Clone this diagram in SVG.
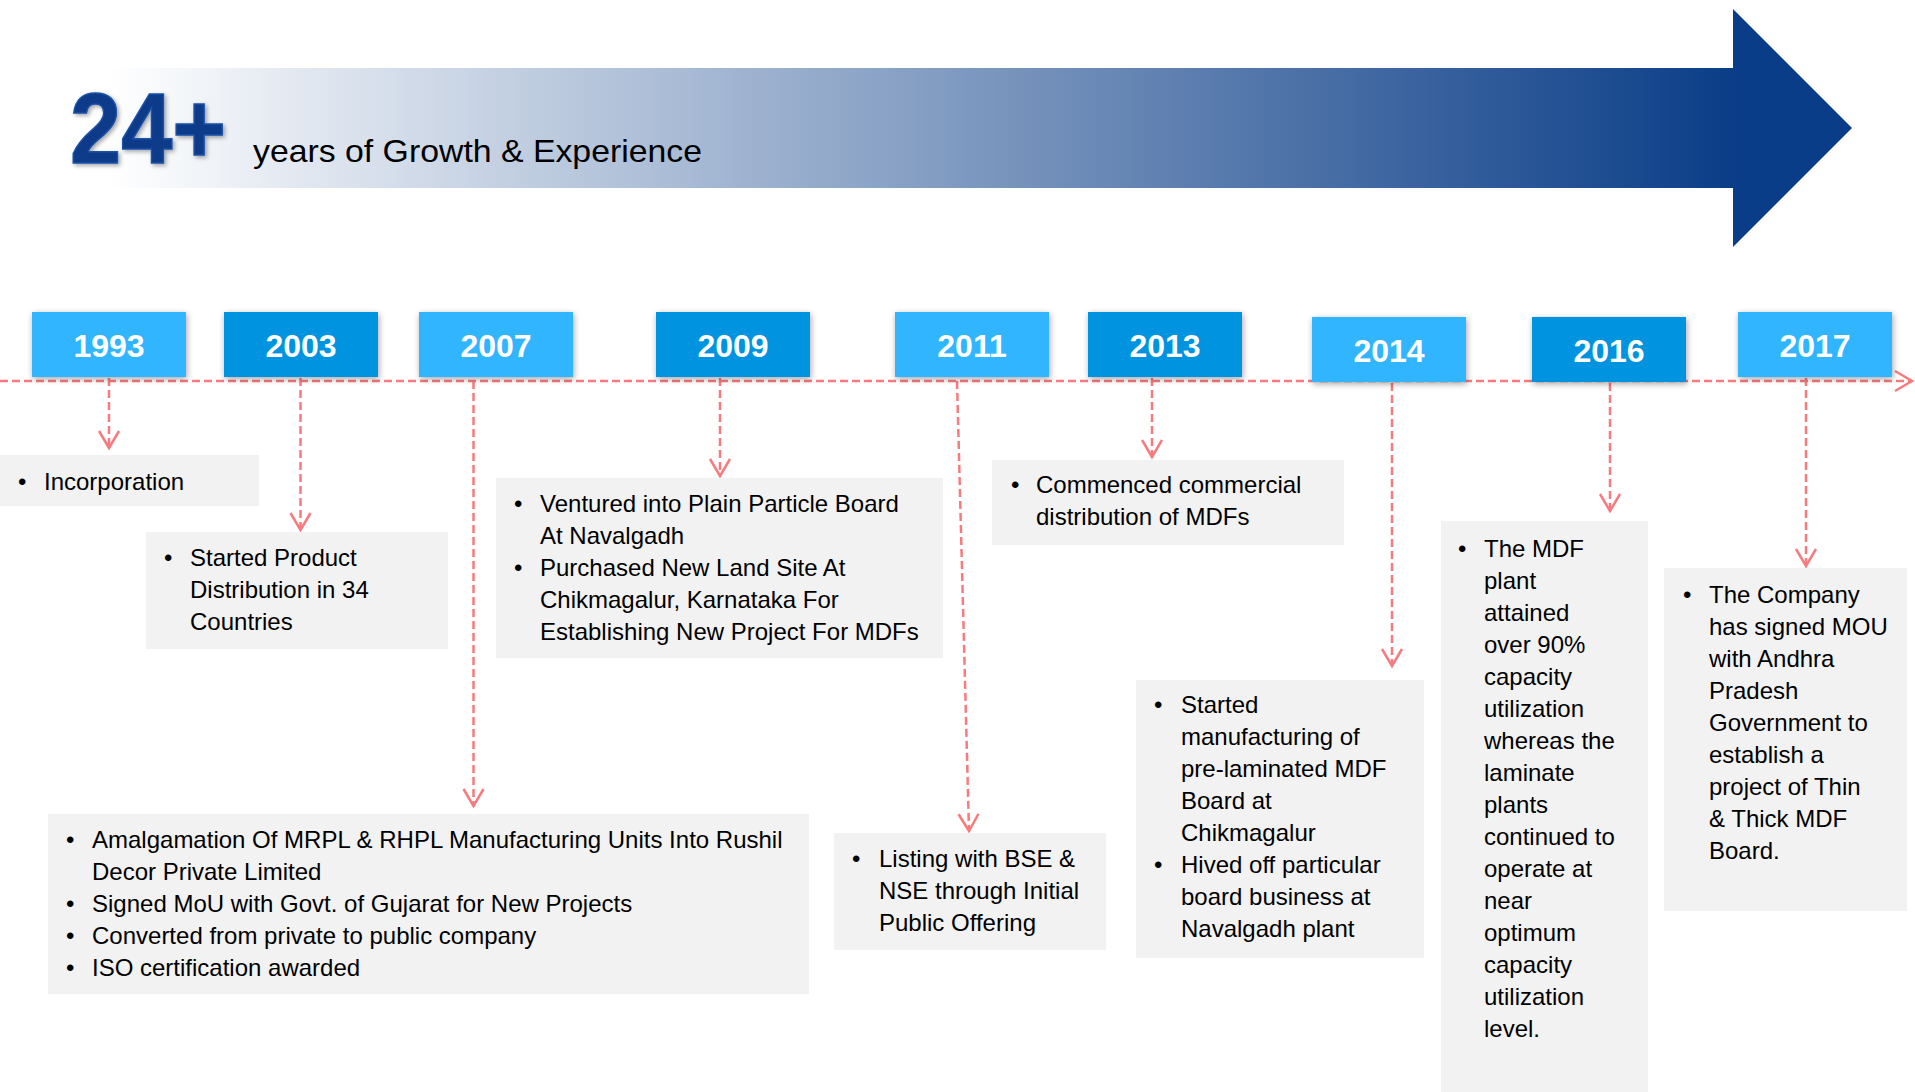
<svg xmlns="http://www.w3.org/2000/svg" width="1915" height="1092" viewBox="0 0 1915 1092">
<style>
.yr{font-family:"Liberation Sans",Arial,sans-serif;font-weight:bold;font-size:32px;fill:#ffffff;text-anchor:middle}
.light{fill:#33b5ff}
.dark{fill:#0393df}
.card{fill:#f2f2f2}
.t{font-family:"Liberation Sans",Arial,sans-serif;font-size:24px;fill:#000000}
.conn{fill:none;stroke:#f77b7e;stroke-width:2.5;stroke-dasharray:8 4}
</style>
<defs>
<linearGradient id="band" gradientUnits="userSpaceOnUse" x1="108" y1="0" x2="1736" y2="0">
<stop offset="0" stop-color="#ffffff"/>
<stop offset="1" stop-color="#0a3d87"/>
</linearGradient>
<filter id="sh" x="-20%" y="-30%" width="140%" height="170%">
<feDropShadow dx="1" dy="2" stdDeviation="3" flood-color="#000" flood-opacity="0.35"/>
</filter>
<filter id="tsh" x="-10%" y="-10%" width="130%" height="130%">
<feDropShadow dx="2" dy="2" stdDeviation="2" flood-color="#000" flood-opacity="0.35"/>
</filter>
<marker id="chev" viewBox="-20 -12 24 24" refX="0" refY="0" markerWidth="24" markerHeight="24" markerUnits="userSpaceOnUse" orient="auto" overflow="visible">
<path d="M-17,-10 L0,0 L-17,10" fill="none" stroke="#f77b7e" stroke-width="2.5"/>
</marker>
</defs>

<g id="banner">
<path d="M108,68 L1733,68 L1733,9 L1852,128 L1733,247 L1733,188 L108,188 Z" fill="url(#band)"/>
<text x="70" y="163" font-family="'Liberation Sans',Arial,sans-serif" font-weight="bold" font-size="100" fill="#0a3a8a" stroke="#1c52a6" stroke-width="1.5" textLength="156" lengthAdjust="spacingAndGlyphs" filter="url(#tsh)">24+</text>
<text x="253" y="162" font-family="'Liberation Sans',Arial,sans-serif" font-size="32" fill="#000" textLength="449" lengthAdjust="spacingAndGlyphs">years of Growth &amp; Experience</text>
</g>

<g id="connectors">
<path class="conn" d="M0,381 L1912,381" stroke-dasharray="8 3.5" marker-end="url(#chev)"/>
<path class="conn" d="M109,378 L109,448" marker-end="url(#chev)"/>
<path class="conn" d="M300.5,378 L300.5,530" marker-end="url(#chev)"/>
<path class="conn" d="M473.5,381 L473.5,806" marker-end="url(#chev)"/>
<path class="conn" d="M720,378 L720,476" marker-end="url(#chev)"/>
<path class="conn" d="M957,381 L969,831" marker-end="url(#chev)"/>
<path class="conn" d="M1152,378 L1152,457" marker-end="url(#chev)"/>
<path class="conn" d="M1392,383 L1392,666" marker-end="url(#chev)"/>
<path class="conn" d="M1610,383 L1610,511" marker-end="url(#chev)"/>
<path class="conn" d="M1806,378 L1806,566" marker-end="url(#chev)"/>
</g>

<g id="y1993"><rect class="light" x="32" y="312" width="154" height="65" filter="url(#sh)"/><text class="yr" x="109" y="357">1993</text></g>
<g id="y2003"><rect class="dark" x="224" y="312" width="154" height="65" filter="url(#sh)"/><text class="yr" x="301" y="357">2003</text></g>
<g id="y2007"><rect class="light" x="419" y="312" width="154" height="65" filter="url(#sh)"/><text class="yr" x="496" y="357">2007</text></g>
<g id="y2009"><rect class="dark" x="656" y="312" width="154" height="65" filter="url(#sh)"/><text class="yr" x="733" y="357">2009</text></g>
<g id="y2011"><rect class="light" x="895" y="312" width="154" height="65" filter="url(#sh)"/><text class="yr" x="972" y="357">2011</text></g>
<g id="y2013"><rect class="dark" x="1088" y="312" width="154" height="65" filter="url(#sh)"/><text class="yr" x="1165" y="357">2013</text></g>
<g id="y2014"><rect class="light" x="1312" y="317" width="154" height="65" filter="url(#sh)"/><text class="yr" x="1389" y="362">2014</text></g>
<g id="y2016"><rect class="dark" x="1532" y="317" width="154" height="65" filter="url(#sh)"/><text class="yr" x="1609" y="362">2016</text></g>
<g id="y2017"><rect class="light" x="1738" y="312" width="154" height="65" filter="url(#sh)"/><text class="yr" x="1815" y="357">2017</text></g>

<g id="c1993">
<rect class="card" x="0" y="455" width="259" height="51"/>
<text class="t"><tspan x="18" y="490">•</tspan><tspan x="44" y="490">Incorporation</tspan></text>
</g>

<g id="c2003">
<rect class="card" x="146" y="532" width="302" height="117"/>
<text class="t"><tspan x="164" y="566">•</tspan><tspan x="190" y="566">Started Product</tspan><tspan x="190" y="598">Distribution in 34</tspan><tspan x="190" y="630">Countries</tspan></text>
</g>

<g id="c2009">
<rect class="card" x="496" y="478" width="447" height="180"/>
<text class="t"><tspan x="514" y="512">•</tspan><tspan x="540" y="512">Ventured into Plain Particle Board</tspan><tspan x="540" y="544">At Navalgadh</tspan><tspan x="514" y="576">•</tspan><tspan x="540" y="576">Purchased New Land Site At</tspan><tspan x="540" y="608">Chikmagalur, Karnataka For</tspan><tspan x="540" y="640">Establishing New Project For MDFs</tspan></text>
</g>

<g id="c2007">
<rect class="card" x="48" y="814" width="761" height="180"/>
<text class="t"><tspan x="66" y="848">•</tspan><tspan x="92" y="848">Amalgamation Of MRPL &amp; RHPL Manufacturing Units Into Rushil</tspan><tspan x="92" y="880">Decor Private Limited</tspan><tspan x="66" y="912">•</tspan><tspan x="92" y="912">Signed MoU with Govt. of Gujarat for New Projects</tspan><tspan x="66" y="944">•</tspan><tspan x="92" y="944">Converted from private to public company</tspan><tspan x="66" y="976">•</tspan><tspan x="92" y="976">ISO certification awarded</tspan></text>
</g>

<g id="c2011">
<rect class="card" x="834" y="833" width="272" height="117"/>
<text class="t"><tspan x="852" y="867">•</tspan><tspan x="879" y="867">Listing with BSE &amp;</tspan><tspan x="879" y="899">NSE through Initial</tspan><tspan x="879" y="931">Public Offering</tspan></text>
</g>

<g id="c2013">
<rect class="card" x="992" y="460" width="352" height="85"/>
<text class="t"><tspan x="1011" y="493">•</tspan><tspan x="1036" y="493">Commenced commercial</tspan><tspan x="1036" y="525">distribution of MDFs</tspan></text>
</g>

<g id="c2014">
<rect class="card" x="1136" y="680" width="288" height="278"/>
<text class="t"><tspan x="1154" y="713">•</tspan><tspan x="1181" y="713">Started</tspan><tspan x="1181" y="745">manufacturing of</tspan><tspan x="1181" y="777">pre-laminated MDF</tspan><tspan x="1181" y="809">Board at</tspan><tspan x="1181" y="841">Chikmagalur</tspan><tspan x="1154" y="873">•</tspan><tspan x="1181" y="873">Hived off particular</tspan><tspan x="1181" y="905">board business at</tspan><tspan x="1181" y="937">Navalgadh plant</tspan></text>
</g>

<g id="c2016">
<rect class="card" x="1441" y="521" width="207" height="571"/>
<text class="t"><tspan x="1458" y="557">•</tspan><tspan x="1484" y="557">The MDF</tspan><tspan x="1484" y="589">plant</tspan><tspan x="1484" y="621">attained</tspan><tspan x="1484" y="653">over 90%</tspan><tspan x="1484" y="685">capacity</tspan><tspan x="1484" y="717">utilization</tspan><tspan x="1484" y="749">whereas the</tspan><tspan x="1484" y="781">laminate</tspan><tspan x="1484" y="813">plants</tspan><tspan x="1484" y="845">continued to</tspan><tspan x="1484" y="877">operate at</tspan><tspan x="1484" y="909">near</tspan><tspan x="1484" y="941">optimum</tspan><tspan x="1484" y="973">capacity</tspan><tspan x="1484" y="1005">utilization</tspan><tspan x="1484" y="1037">level.</tspan></text>
</g>

<g id="c2017">
<rect class="card" x="1664" y="568" width="243" height="343"/>
<text class="t"><tspan x="1683" y="603">•</tspan><tspan x="1709" y="603">The Company</tspan><tspan x="1709" y="635">has signed MOU</tspan><tspan x="1709" y="667">with Andhra</tspan><tspan x="1709" y="699">Pradesh</tspan><tspan x="1709" y="731">Government to</tspan><tspan x="1709" y="763">establish a</tspan><tspan x="1709" y="795">project of Thin</tspan><tspan x="1709" y="827">&amp; Thick MDF</tspan><tspan x="1709" y="859">Board.</tspan></text>
</g>
</svg>
